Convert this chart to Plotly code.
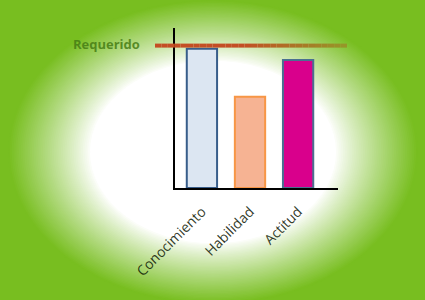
import plotly.graph_objects as go

# ---- data ----
categories = ["Conocimiento", "Habilidad", "Actitud"]
values = [87, 57, 80]
requerido = 89
requerido_label = "Requerido"

fill_colors = ["#DCE6F2", "#F6B393", "#D9008C"]
line_colors = ["#385D8A", "#F79646", "#4A7090"]

W, H = 425, 300
GREEN = (120, 190, 32)

def px_x(p):
    return p / W

def px_y(p):
    return 1 - p / H

fig = go.Figure()
fig.add_trace(go.Bar(
    x=categories, y=values, width=0.63,
    marker=dict(color=fill_colors, line=dict(color=line_colors, width=2)),
    showlegend=False, hoverinfo="skip",
))

shapes = []
# radial gradient background: concentric ellipses
cx, cy, rx, ry = 213, 152, 205, 152
N = 45
inner = 0.6
for i in range(N + 1):
    r = 1.0 - (1.0 - inner) * i / N
    t = (r - inner) / (1.0 - inner)
    t = t ** 0.9
    col = tuple(int(round(255 * (1 - t) + g * t)) for g in GREEN)
    shapes.append(dict(
        type="circle", xref="paper", yref="paper", layer="below",
        x0=px_x(cx - rx * r), x1=px_x(cx + rx * r),
        y0=px_y(cy + ry * r), y1=px_y(cy - ry * r),
        fillcolor="rgb(%d,%d,%d)" % col, line=dict(width=0),
    ))

# Requerido line with colour gradient
x_start, x_end = 155, 347
segs = 30
c0 = (196, 78, 36)
c1 = (150, 150, 40)
for i in range(segs):
    a = x_start + (x_end - x_start) * i / segs
    b = x_start + (x_end - x_start) * (i + 1) / segs
    f = i / (segs - 1)
    f = max(0.0, (f - 0.45) / 0.55)
    col = tuple(int(round(c0[k] * (1 - f) + c1[k] * f)) for k in range(3))
    shapes.append(dict(
        type="line", xref="paper", yref="y", layer="above",
        x0=px_x(a), x1=px_x(b), y0=requerido, y1=requerido,
        line=dict(color="rgb(%d,%d,%d)" % col, width=4),
    ))

fig.update_layout(
    width=W, height=H,
    margin=dict(l=0, r=0, t=0, b=0, autoexpand=False),
    paper_bgcolor="rgb(%d,%d,%d)" % GREEN,
    plot_bgcolor="rgba(0,0,0,0)",
    shapes=shapes,
    annotations=[dict(
        text="<b>" + requerido_label + "</b>", xref="paper", yref="y",
        x=px_x(142), y=requerido + 1, xanchor="right", yanchor="middle",
        showarrow=False,
        font=dict(family="Open Sans", size=13, color="rgba(70,125,20,0.85)"),
    )],
    xaxis=dict(
        domain=[px_x(175), px_x(338)],
        range=[-0.56, 2.83], automargin=False,
        showline=True, linecolor="black", linewidth=2,
        showgrid=False, zeroline=False, ticks="outside", ticklen=8,
        tickcolor="rgba(0,0,0,0)",
        tickangle=-45,
        tickfont=dict(family="Open Sans", size=14, color="rgba(10,20,0,0.85)"),
    ),
    yaxis=dict(
        domain=[px_y(188), px_y(28)],
        range=[0, 100], automargin=False,
        showline=True, linecolor="black", linewidth=2,
        showgrid=False, zeroline=False, showticklabels=False, ticks="",
    ),
)

fig.write_html("out.html")
